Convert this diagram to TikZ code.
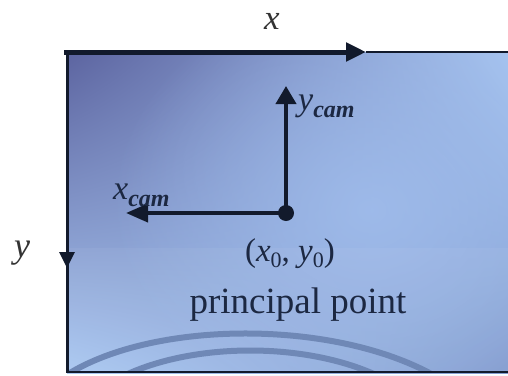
\documentclass[tikz,border=0pt]{standalone}
\usepackage{fontspec}
\setmainfont{Liberation Serif}
\usetikzlibrary{arrows.meta,shadings,fadings}
\definecolor{ink}{HTML}{121A2C}
\definecolor{txt}{HTML}{1C2842}
\definecolor{arc}{HTML}{6F88B6}
\definecolor{cul}{HTML}{5C64A0}
\definecolor{cur}{HTML}{A6C4F0}
\definecolor{cll}{HTML}{AAC8F2}
\definecolor{clr}{HTML}{7E98CC}
\definecolor{glow}{HTML}{A2BFEE}
\tikzfading[name=softglow, inner color=transparent!0, outer color=transparent!100]
\tikzset{
  axisline/.style={draw=ink, line width=#1},
  lbl/.style={text=txt, inner sep=0pt, anchor=base},
}
\begin{document}
\begin{tikzpicture}[x=1pt,y=-1pt]
\useasboundingbox (0,0) rectangle (508,375);
% image plane
\shade[upper left=cul, upper right=cur, lower left=cll, lower right=clr]
  (67,52) rectangle (508,373);
\fill[glow, path fading=softglow, opacity=0.8]
  (370,210) ellipse [x radius=260pt, y radius=220pt];
\fill[white, opacity=0.05] (67,248) rectangle (508,373);
% faint arcs
\begin{scope}
\clip (67,52) rectangle (508,372);
\draw[arc, line width=6pt] (62,378) .. controls (150,318) and (345,318) .. (445,382);
\draw[arc, line width=6pt] (112,382) .. controls (185,340) and (315,340) .. (390,382);
\end{scope}
\draw[ink, line width=2pt] (67,372) -- (508,372);
\fill[white] (0,0) rectangle (508,50.5);
\fill[white] (0,0) rectangle (65.5,375);
\fill[white] (0,373.5) rectangle (508,375);
% coordinates
\coordinate (o) at (67,52);
\coordinate (xt) at (366,52);
\coordinate (re) at (508,52);
\coordinate (yt) at (67,268);
\coordinate (be) at (67,373);
\node[circle, fill=ink, minimum size=16pt, inner sep=0pt] (pp) at (286,213) {};
\coordinate (yc) at (286,86);
\coordinate (xc) at (126,213);
% image axes
\draw[axisline=2pt] (xt) -- (re);
\draw[axisline=5pt, line cap=rect, -{Triangle[length=20pt,width=18pt]}] ([xshift=-1pt]o) -- (xt);
\draw[axisline=3pt] (o) -- (be);
\draw[axisline=3pt, -{Triangle[length=16pt,width=15pt]}] (o) -- (yt);
% camera axes
\draw[axisline=4pt, -{Triangle[length=18pt,width=20pt]}] (pp.center) -- (yc);
\draw[axisline=4pt, -{Triangle[length=22pt,width=18pt]}] (pp.center) -- (xc);
% labels
\node[lbl, text=black!80, font=\fontsize{35}{35}\selectfont] (xl) at (272,29) {\textit{x}};
\node[lbl, text=black!80, font=\fontsize{36}{36}\selectfont] (yl) at (22,257) {\textit{y}};
\node[lbl, anchor=base west, font=\fontsize{34}{34}\selectfont] (ycl) at (298,110)
  {\textit{y}\raisebox{-7pt}{\fontsize{24}{24}\selectfont\textbf{\textit{cam}}}};
\node[lbl, anchor=base west, font=\fontsize{34}{34}\selectfont] (xcl) at (113,199)
  {\textit{x}\raisebox{-7pt}{\fontsize{24}{24}\selectfont\textbf{\textit{cam}}}};
\node[lbl, font=\fontsize{33}{33}\selectfont] (ppl) at (290,261)
  {(\textit{x}\raisebox{-6pt}{\fontsize{22}{22}\selectfont 0}, \textit{y}\raisebox{-6pt}{\fontsize{22}{22}\selectfont 0})};
\node[lbl, font=\fontsize{37}{37}\selectfont] (pname) at (298,313) {principal point};
\end{tikzpicture}
\end{document}
